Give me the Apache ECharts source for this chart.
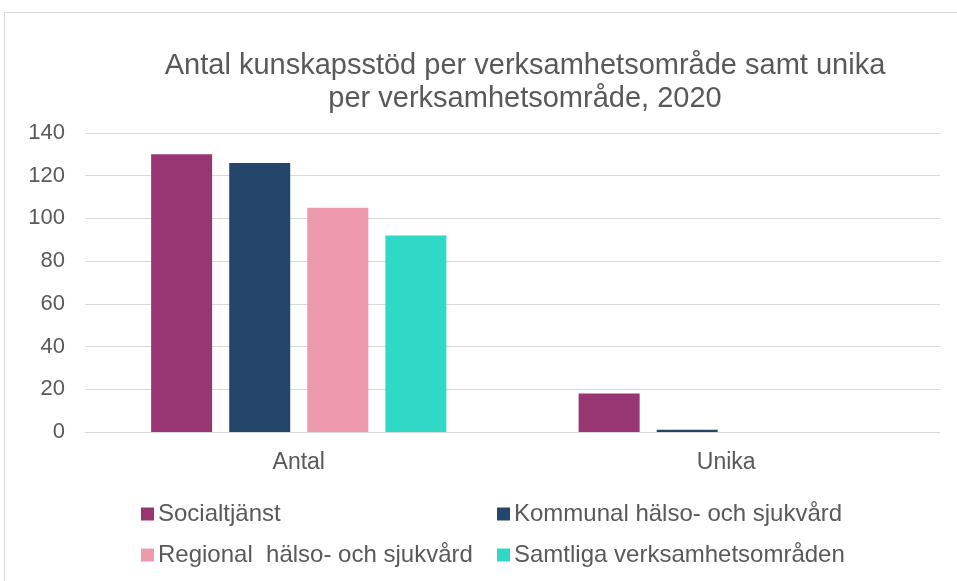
<!DOCTYPE html>
<html><head><meta charset="utf-8">
<script src="https://cdn.jsdelivr.net/npm/echarts@6/dist/echarts.min.js"></script>
<style>html,body{margin:0;padding:0;background:#fff}#c{width:957px;height:581px}</style>
</head><body><div id="c"></div>
<script>
const categories = ['Antal', 'Unika'];
const seriesNames = ['Socialtjänst', 'Kommunal hälso- och sjukvård', 'Regional  hälso- och sjukvård', 'Samtliga verksamhetsområden'];
const socialtjanst = [130, 18];
const kommunal = [126, 1];
const regional = [105, 0];
const samtliga = [92, 0];
const colors = ['#983573', '#25466b', '#ee9aad', '#30d9c5'];
const yTicks = [0, 20, 40, 60, 80, 100, 120, 140];

const values = [socialtjanst, kommunal, regional, samtliga];
const chart = echarts.init(document.getElementById('c'));
const font = 'Liberation Sans, Arial, sans-serif';
const legendPos = [[136, 497], [492, 497], [136, 538], [492, 538]];
chart.setOption({
  animation: false,
  textStyle: { fontFamily: font },
  graphic: [{ type: 'rect', shape: { x: 4.5, y: 12.5, width: 960, height: 600 }, style: { fill: 'none', stroke: '#d9d9d9', lineWidth: 1 } }],
  title: {
    text: 'Antal kunskapsstöd per verksamhetsområde samt unika\nper verksamhetsområde, 2020',
    left: 520, top: 44, textAlign: 'center',
    textStyle: { fontFamily: font, fontSize: 29, fontWeight: 'normal', color: '#595959', lineHeight: 33, align: 'center' }
  },
  legend: seriesNames.map((n, i) => ({
    data: [n], left: legendPos[i][0], top: legendPos[i][1], itemWidth: 13, itemHeight: 13, icon: 'rect',
    textStyle: { fontFamily: font, fontSize: 24, color: '#595959', padding: [0, 0, 0, -1] }
  })),
  grid: { left: 85, right: 17, top: 133, bottom: 149, containLabel: false },
  xAxis: {
    type: 'category', data: categories,
    axisLine: { lineStyle: { color: '#d9d9d9' } }, axisTick: { show: false },
    axisLabel: { fontFamily: font, fontSize: 23, color: '#595959', margin: 19 }
  },
  yAxis: {
    type: 'value', min: yTicks[0], max: yTicks[yTicks.length - 1], interval: 20,
    axisLine: { show: false }, axisTick: { show: false },
    splitLine: { lineStyle: { color: '#d9d9d9', width: 1 } },
    axisLabel: { fontFamily: font, fontSize: 22, color: '#595959', margin: 20 }
  },
  series: seriesNames.map((n, i) => ({
    name: n, type: 'bar', data: values[i], barWidth: 61, barGap: '28%',
    itemStyle: { color: colors[i] }
  }))
});
</script></body></html>
